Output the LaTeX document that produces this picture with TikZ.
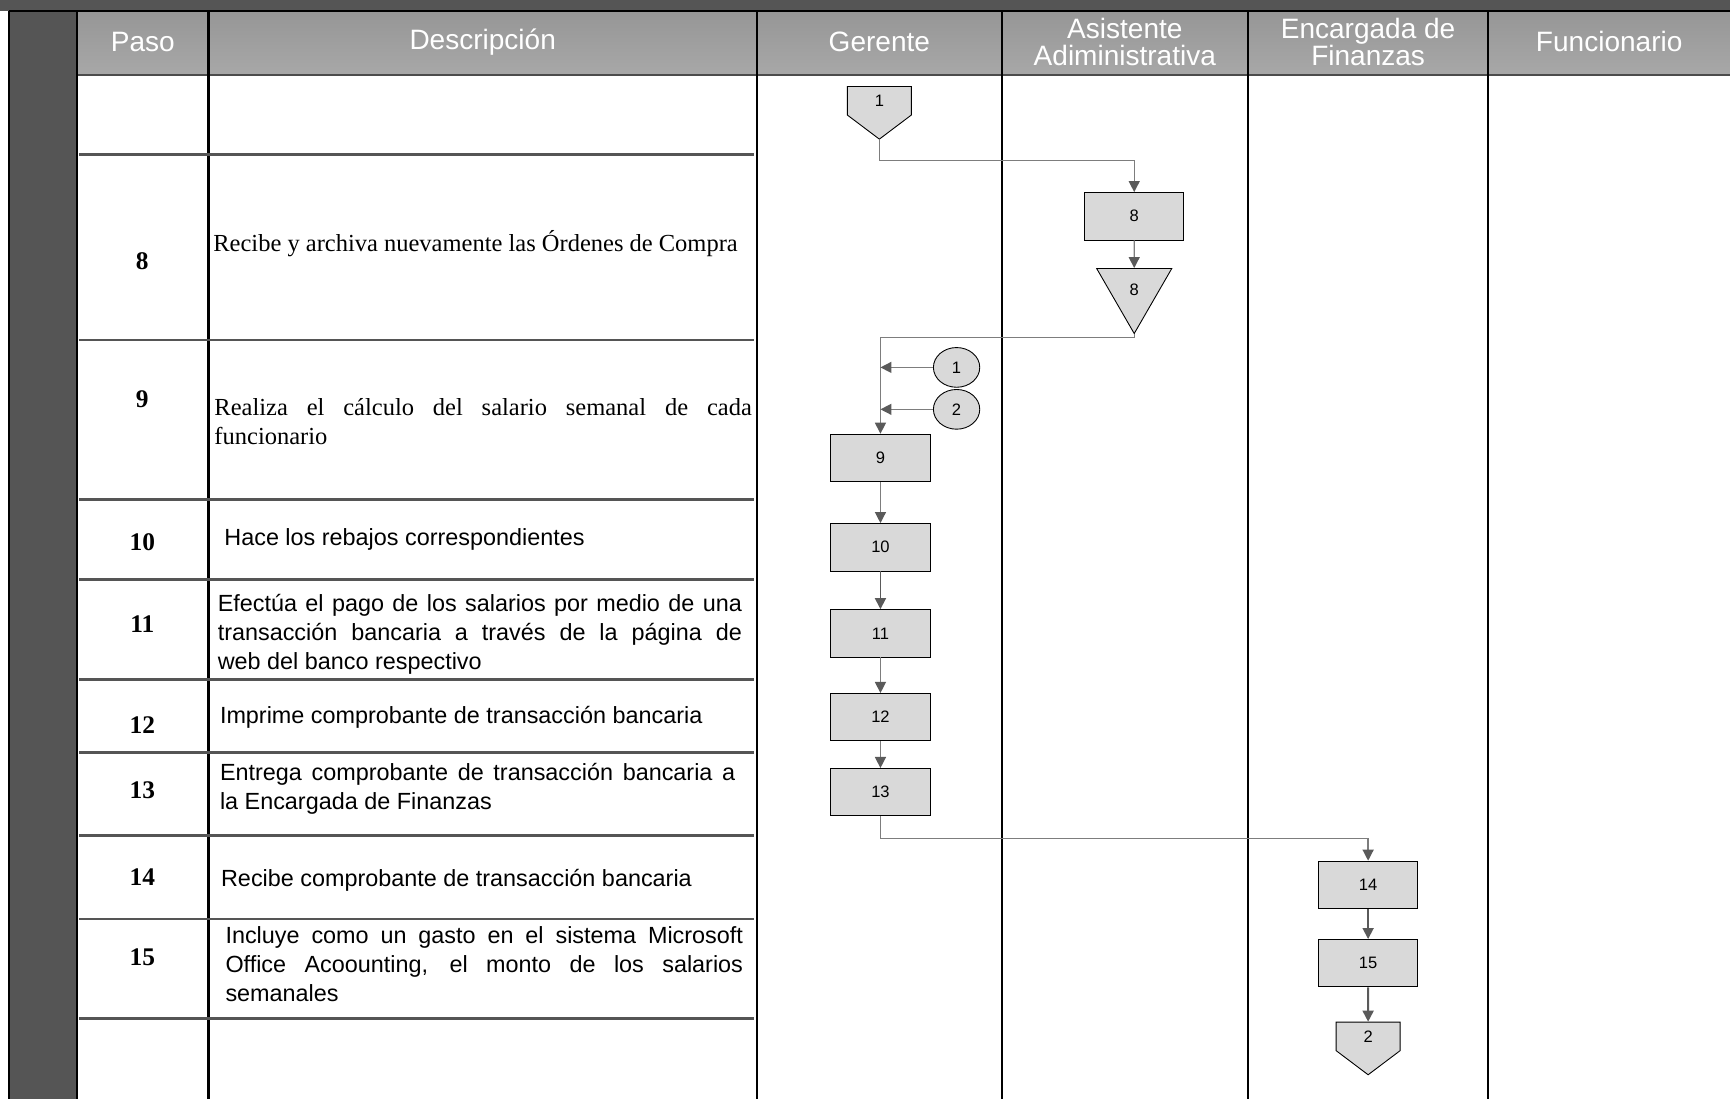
\documentclass[tikz,border=0pt]{standalone}
\usepackage{fontspec}
\setmainfont{Liberation Serif}
\setsansfont{Liberation Sans}
\usetikzlibrary{positioning,shapes.geometric,shapes.symbols,arrows.meta}

\definecolor{marco}{RGB}{85,85,85}
\definecolor{cabezaA}{RGB}{150,150,150}
\definecolor{cabezaB}{RGB}{168,168,168}
\definecolor{caja}{RGB}{217,217,217}
\definecolor{flecha}{RGB}{90,90,90}
\definecolor{linea}{RGB}{125,125,125}

\begin{document}
\begin{tikzpicture}[x=0.5pt, y=-0.5pt, align=center,
	cabeza/.style = {text=white, font=\sffamily\fontsize{12.7}{12.5}\selectfont},
	paso/.style = {font=\bfseries\fontsize{11.5}{14}\selectfont},
	desc/.style = {anchor=west, inner sep=0pt, font=\sffamily\fontsize{10.6}{13.25}\selectfont},
	descserif/.style = {anchor=west, inner sep=0pt, font=\fontsize{11.1}{13}\selectfont},
	fila/.style = {draw=marco, line width=1.2pt},
	proc/.style = {draw, fill=caja, minimum width=45pt, minimum height=21.5pt, inner sep=0pt, font=\sffamily\fontsize{7.5}{9}\selectfont},
	conec/.style = {draw, ellipse, fill=caja, minimum width=21pt, minimum height=18pt, inner sep=0pt, font=\sffamily\fontsize{7.5}{9}\selectfont},
	pagina/.style = {draw, signal, signal to=south, signal pointer angle=106, fill=caja, minimum width=29pt, minimum height=14.5pt, inner sep=0pt, font=\sffamily\fontsize{7.5}{9}\selectfont},
	archivo/.style = {draw, regular polygon, regular polygon sides=3, shape border rotate=180, fill=caja, minimum size=39.3pt, inner sep=0pt, font=\sffamily\fontsize{7.5}{9}\selectfont},
	flujo/.style = {draw=linea, line width=0.6pt, -{Triangle[length=5pt, width=5pt, color=flecha]}},
	fuerte/.style = {draw=flecha, line width=0.8pt, -{Triangle[length=5pt, width=5pt, color=flecha]}}]
	\useasboundingbox (0,0) rectangle (1568,996);

	% marco
	\fill[marco] (0,0) rectangle (1568,10);
	\fill[marco] (8,10) rectangle (70,996);
	\shade[top color=cabezaA, bottom color=cabezaB] (70,10) rectangle (1568,68);
	\draw[gray!60!black, line width=0.5pt] (70,68) -- (1568,68);
	\draw[line width=1pt] (8,10) -- (1568,10);
	\draw[line width=1pt] (8,10) -- (8,996);
	\foreach \x in {70,189,686,908,1131,1349}
		\draw[line width=1pt] (\x,10) -- (\x,996);
	\foreach \y in {140,308,453,525,616,682,757,833,923}
		\draw[fila] (72,\y) -- (683,\y);

	% encabezado
	\node[cabeza] (h1) at (129.5,38) {Paso};
	\node[cabeza] (h2) at (437.5,38) {Descripción};
	\node[cabeza] (h3) at (797,38) {Gerente};
	\node[cabeza] (h4) at (1019.5,38) {Asistente\\Adiministrativa};
	\node[cabeza] (h5) at (1240,38) {Encargada de\\Finanzas};
	\node[cabeza] (h6) at (1458.5,38) {Funcionario};

	% pasos
	\foreach \n/\y in {8/237,9/362,10/491,11/566,12/657,13/716,14/795,15/868}
		\node[paso] (n\n) at (129,\y) {\n};

	% descripciones
	\node[descserif] (d8) at (193,221) {Recibe y archiva nuevamente las Órdenes de Compra};
	\node[descserif, text width=243.5pt, align=justify] (d9) at (194,382) {Realiza el cálculo del salario semanal de cada\linebreak funcionario};
	\node[desc] (d10) at (203,489) {Hace los rebajos correspondientes};
	\node[desc, text width=237.5pt, align=justify] (d11) at (197,575) {Efectúa el pago de los salarios por medio de una\linebreak transacción bancaria a través de la página de\linebreak web del banco respectivo};
	\node[desc] (d12) at (199,650) {Imprime comprobante de transacción bancaria};
	\node[desc, text width=233.5pt, align=justify] (d13) at (199,715) {Entrega comprobante de transacción bancaria a\linebreak la Encargada de Finanzas};
	\node[desc] (d14) at (200,798) {Recibe comprobante de transacción bancaria};
	\node[desc, text width=234.5pt, align=justify] (d15) at (204,874) {Incluye como un gasto en el sistema Microsoft\linebreak Office Acoounting, el monto de los salarios\linebreak semanales};

	% flujo
	\node[pagina, anchor=north] (g1) at (797,78) {1};
	\node[proc] (a8) at (1028,196) {8};
	\node[archivo] (t8) at (1028,263) {8};
	\node[conec] (k1) at (867,333) {1};
	\node[conec] (k2) at (867,371) {2};
	\node[proc] (g9) at (798,415) {9};
	\node[proc] (g10) at (798,496) {10};
	\node[proc] (g11) at (798,574) {11};
	\node[proc] (g12) at (798,650) {12};
	\node[proc] (g13) at (798,718) {13};
	\node[proc] (f14) at (1240,802) {14};
	\node[proc] (f15) at (1240,873) {15};
	\node[pagina, anchor=north] (f2) at (1240,926) {2};

	\draw[flujo] (g1.south) -- ++(0,19) -| (a8.north);
	\draw[flujo] (a8) -- (t8);
	\draw[flujo] (t8.south) -- ++(0,3) -| (g9.north);
	\draw[flujo] (k1.west) -- (k1.west -| g9.north);
	\draw[flujo] (k2.west) -- (k2.west -| g9.north);
	\draw[flujo] (g9) -- (g10);
	\draw[fuerte] (g10) -- (g11);
	\draw[flujo] (g11) -- (g12);
	\draw[flujo] (g12) -- (g13);
	\draw[flujo] (g13.south) -- ++(0,20) -| (f14.north);
	\draw[fuerte] (f14) -- (f15);
	\draw[fuerte] (f15) -- (f2);
\end{tikzpicture}
\end{document}
